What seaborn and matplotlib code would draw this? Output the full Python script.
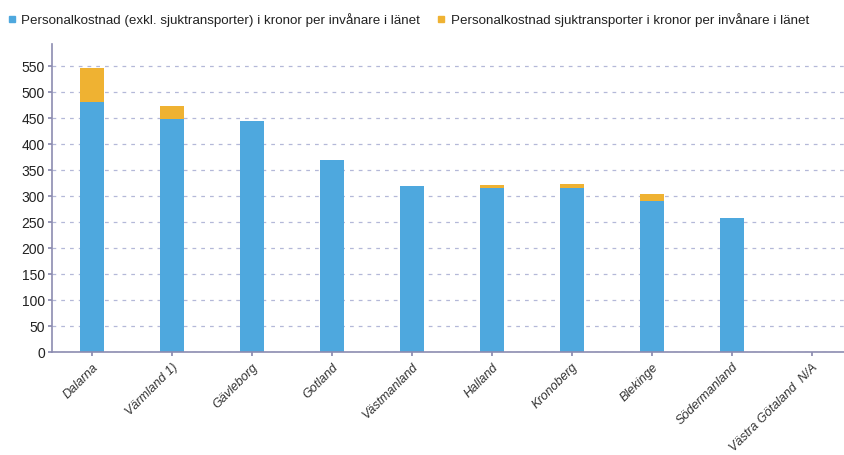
import pandas as pd
import matplotlib
matplotlib.use("Agg")
import matplotlib.pyplot as plt
import seaborn as sns
from matplotlib.lines import Line2D

# --- Data ---
regions = ["Dalarna", "Värmland 1)", "Gävleborg", "Gotland", "Västmanland",
           "Halland", "Kronoberg", "Blekinge", "Södermanland", "Västra Götaland  N/A"]
personal_exkl = [480, 448, 444, 370, 320, 316, 315, 290, 257, 0]
personal_sjuktransport = [66, 24, 0, 0, 0, 5, 7, 13, 0, 0]

label_exkl = "Personalkostnad (exkl. sjuktransporter) i kronor per invånare i länet"
label_sjuk = "Personalkostnad sjuktransporter i kronor per invånare i länet"

blue = "#4ea8de"
orange = "#efb232"

df = pd.DataFrame({
    "Region": regions,
    "Exkl": personal_exkl,
    "Sjuk": personal_sjuktransport,
})
df["Total"] = df["Exkl"] + df["Sjuk"]

# --- Style ---
sns.set_theme(style="white")
plt.rcParams["font.family"] = ["Liberation Sans", "DejaVu Sans"]

fig = plt.figure(figsize=(8.45, 4.56), dpi=100)
ax = fig.add_axes([52 / 845, 1 - 353 / 456, 793 / 845, (353 - 45) / 456])

# stacked bars: total in orange, base in blue on top of it
sns.barplot(data=df, x="Region", y="Total", color=orange, width=0.31,
            saturation=1, linewidth=0, ax=ax)
sns.barplot(data=df, x="Region", y="Exkl", color=blue, width=0.31,
            saturation=1, linewidth=0, ax=ax)

ax.set_xlim(-0.5, 9.4125)
ax.set_ylim(0, 592)
ax.set_yticks(range(0, 551, 50))
ax.set_xlabel("")
ax.set_ylabel("")

ax.yaxis.grid(True, linestyle=(0, (3, 4)), color="#b4b8d8", linewidth=0.9)
ax.set_axisbelow(True)

for side in ["top", "right"]:
    ax.spines[side].set_visible(False)
for side in ["left", "bottom"]:
    ax.spines[side].set_color("#8c8cb0")
    ax.spines[side].set_linewidth(1.2)

ax.tick_params(axis="y", labelsize=10, length=3, color="#8c8cb0", pad=2, left=True)
ax.tick_params(axis="x", labelsize=9, length=3, color="#8c8cb0", pad=3, bottom=True)
for lab in ax.get_yticklabels():
    lab.set_color("#222222")
ax.set_xticks(range(len(regions)))
ax.set_xticklabels(regions, rotation=45, ha="right", rotation_mode="anchor",
                   color="#333333", style="italic")

# --- Legend ---
handles = [
    Line2D([], [], marker="s", linestyle="none", color=blue, markersize=5),
    Line2D([], [], marker="s", linestyle="none", color=orange, markersize=5),
]
fig.legend(handles, [label_exkl, label_sjuk], loc="upper left",
           bbox_to_anchor=(-0.008, 1.0), ncol=2, frameon=False, fontsize=9.6,
           handlelength=0.8, handletextpad=0.3, columnspacing=1.2,
           borderaxespad=0.6, labelcolor="#222222")

fig.savefig("out.png", dpi=100)
